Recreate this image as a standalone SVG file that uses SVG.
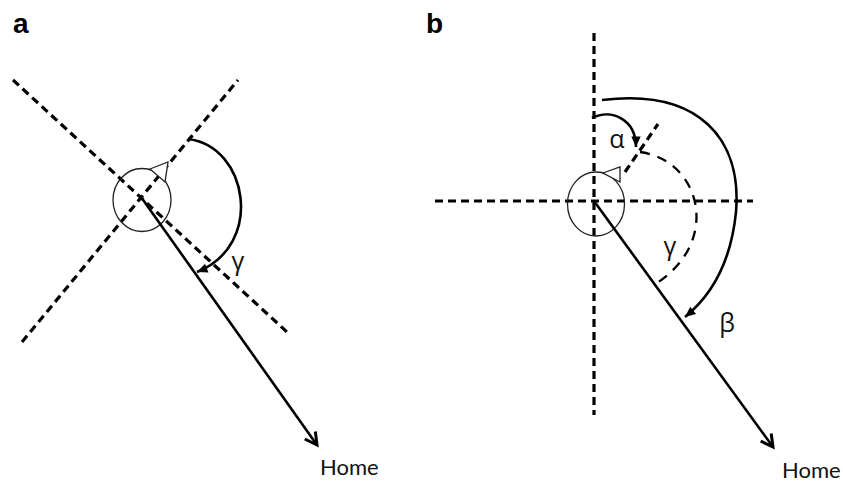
<svg xmlns="http://www.w3.org/2000/svg" width="843" height="482" viewBox="0 0 843 482">
<style>
.dash{fill:none;stroke:#000;stroke-width:3.2;stroke-dasharray:8 5}
.dashthin{fill:none;stroke:#000;stroke-width:2.3;stroke-dasharray:10 8}
.home{fill:none;stroke:#000;stroke-width:2.6}
.arc{fill:none;stroke:#000;stroke-width:2.6}
.head{fill:none;stroke:#222;stroke-width:1.3}
.eye{fill:#fff;stroke:#222;stroke-width:1.3}
.lbl{font-family:"Liberation Sans",Arial,sans-serif;font-weight:bold;font-size:28px;fill:#000}
.txt{font-family:Lato,"Open Sans","DejaVu Sans",sans-serif;font-size:22px;fill:#111}
.gr{font-family:"Open Sans","DejaVu Sans",sans-serif;font-size:25px;fill:#111}
</style>
<defs>
<marker id="open" markerUnits="userSpaceOnUse" markerWidth="20" markerHeight="20" refX="0" refY="0" viewBox="-14 -10 18 20" orient="auto">
<path d="M-12,-6.5 L0,0 L-12,6.5" fill="none" stroke="#000" stroke-width="3"/>
</marker>
<marker id="tri" markerUnits="userSpaceOnUse" markerWidth="14" markerHeight="14" refX="0" refY="0" viewBox="-10 -6 12 12" orient="auto">
<path d="M-9,-4 L0,0 L-9,4 Z" fill="#000"/>
</marker>
</defs>

<text class="lbl" x="13" y="33">a</text>
<text class="lbl" x="426" y="33">b</text>

<g id="panel-a">
<g id="a-axes">
<line class="dash" x1="13" y1="80" x2="287" y2="332"/>
<line class="dash" x1="22" y1="342" x2="238" y2="80"/>
</g>
<g id="a-animal">
<ellipse class="head" cx="142" cy="200" rx="29" ry="31.5"/>
<polygon class="eye" points="150,169 168,162 165,182"/>
</g>
<g id="a-connectors">
<line class="home" x1="141" y1="197" x2="317" y2="445" marker-end="url(#open)"/>
<path class="arc" d="M188,139 C248,146 265,245 197,272" marker-end="url(#tri)"/>
</g>
<text class="gr" x="238" y="270" text-anchor="middle">γ</text>
<text class="txt" x="320" y="475">Home</text>
</g>

<g id="panel-b">
<g id="b-axes">
<line class="dash" x1="594" y1="33" x2="594" y2="415"/>
<line class="dash" x1="435" y1="201" x2="753" y2="201"/>
<line class="dash" x1="625" y1="172" x2="658" y2="124"/>
</g>
<g id="b-animal">
<ellipse class="head" cx="596" cy="204" rx="28.5" ry="32"/>
<polygon class="eye" points="603,173 620,167 620,182"/>
</g>
<g id="b-connectors">
<line class="home" x1="594" y1="201" x2="773" y2="447" marker-end="url(#open)"/>
<path class="arc" d="M592,118 C612,108 636,120 636,147" marker-end="url(#tri)"/>
<path class="arc" d="M602,100 C700,88 742,140 736,212 C731,262 712,295 685,317" marker-end="url(#tri)"/>
<path class="dashthin" d="M640,152 C700,160 722,240 657,283"/>
</g>
<text class="gr" x="617" y="148" text-anchor="middle">α</text>
<text class="gr" x="670" y="255" text-anchor="middle">γ</text>
<text class="gr" x="727" y="332" text-anchor="middle">β</text>
<text class="txt" x="782" y="478">Home</text>
</g>
</svg>
